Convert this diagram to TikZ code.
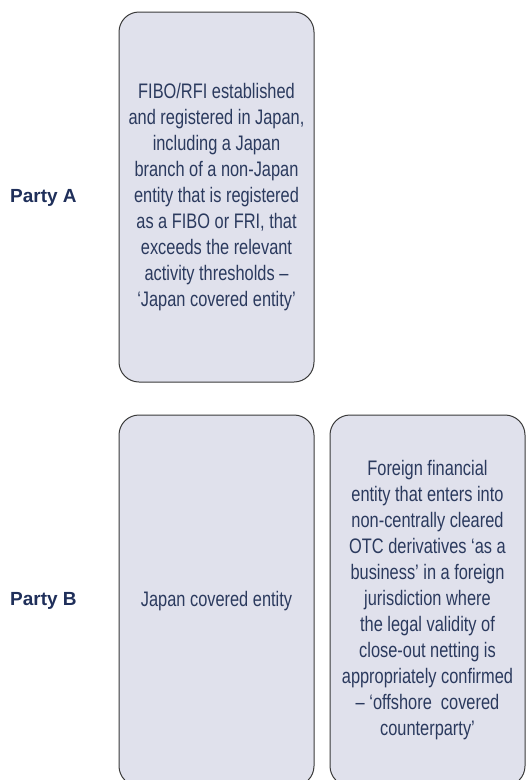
\documentclass[tikz,border=0pt]{standalone}
\usepackage{fontspec}
\setmainfont{Liberation Sans}
\newfontfamily\condfont{Liberation Sans}[FakeStretch=0.78]
\definecolor{boxfill}{HTML}{E0E1EC}
\definecolor{boxline}{HTML}{3A3A3A}
\definecolor{txt}{HTML}{2B3A5E}
\definecolor{lbl}{HTML}{1F2F5A}
\tikzset{
  entbox/.style={draw=boxline, line width=1pt, fill=boxfill, rounded corners=20pt},
  enttext/.style={align=center, text=txt, font=\condfont\fontsize{21}{26}\selectfont, inner sep=0pt},
  party/.style={anchor=west, text=lbl, font=\bfseries\fontsize{19}{22}\selectfont, inner sep=0pt}
}
\begin{document}
\begin{tikzpicture}[x=1pt,y=-1pt]
\useasboundingbox (0,0) rectangle (528,780);
\clip (0,0) rectangle (528,780);
\draw[entbox] (119,12) rectangle (314,382);
\draw[entbox] (119,415) rectangle (314,786);
\draw[entbox] (330,415) rectangle (525,786);
\node[enttext] (ta) at (216.5,197) {FIBO/RFI established\\and registered in Japan,\\including a Japan\\branch of a non-Japan\\entity that is registered\\as a FIBO or FRI, that\\exceeds the relevant\\activity thresholds –\\‘Japan covered entity’};
\node[enttext] (tb1) at (216.5,601) {Japan covered entity};
\node[enttext] (tb2) at (427.5,600) {Foreign financial\\entity that enters into\\non-centrally cleared\\OTC derivatives ‘as a\\business’ in a foreign\\jurisdiction where\\the legal validity of\\close-out netting is\\appropriately confirmed\\– ‘offshore\ \ covered\\counterparty’};
\node[party] (pa) at (10,198) {Party A};
\node[party] (pb) at (10,601) {Party B};
\end{tikzpicture}
\end{document}
